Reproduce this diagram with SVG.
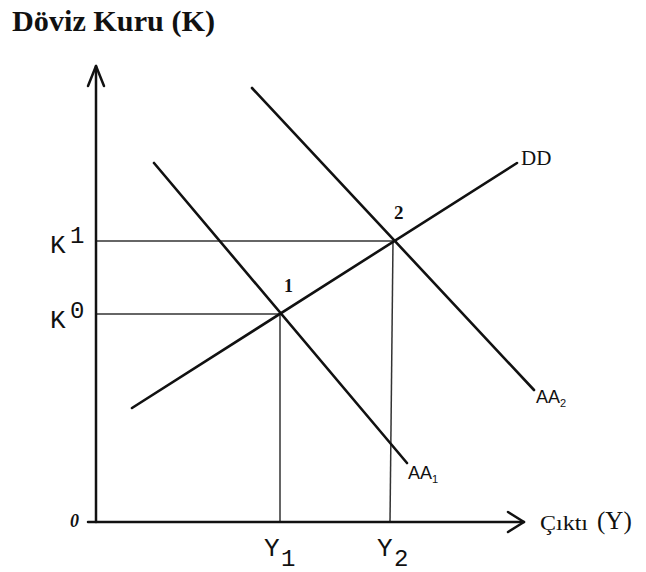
<svg xmlns="http://www.w3.org/2000/svg" width="646" height="572" viewBox="0 0 646 572">
<style>
.ax{stroke:#111;stroke-width:2.5;fill:none;stroke-linecap:round;stroke-linejoin:round}
.cv{stroke:#111;stroke-width:2.6;fill:none;stroke-linecap:round}
.gd{stroke:#333;stroke-width:1.5;fill:none}
.mono{font-family:"Liberation Mono","DejaVu Sans Mono",monospace;fill:#111}
.ser{font-family:"Liberation Serif","DejaVu Serif",serif;fill:#111}
.sans{font-family:"Liberation Sans","DejaVu Sans",sans-serif;fill:#111}
</style>
<rect width="646" height="572" fill="#fff"/>
<g id="title"><text class="ser" x="12" y="31" font-size="29" font-weight="bold" textLength="203" lengthAdjust="spacingAndGlyphs">Döviz Kuru (K)</text></g>
<g id="connectors">
<g id="guides">
<line class="gd" x1="96" y1="241" x2="397" y2="241"/>
<line class="gd" x1="96" y1="314" x2="281" y2="314"/>
<line class="gd" x1="280" y1="314" x2="280" y2="522"/>
<line class="gd" x1="393" y1="241" x2="390" y2="522"/>
</g>
<g id="axes">
<polyline class="ax" points="96,522 96,66"/>
<polyline class="ax" points="88,86 96,66 104,86"/>
<polyline class="ax" points="88,522 524,522"/>
<polyline class="ax" points="508,512 524,522 508,532"/>
</g>
<g id="curves">
<line id="AA1" class="cv" x1="154" y1="163" x2="407" y2="463"/>
<line id="AA2" class="cv" x1="252" y1="88" x2="534" y2="390"/>
<line id="DD" class="cv" x1="132" y1="408" x2="517" y2="163"/>
</g>
</g>
<g id="labels">
<text class="mono" x="50" y="253" font-size="26">K</text><text class="mono" x="70" y="243" font-size="24">1</text>
<text class="mono" x="50" y="328" font-size="26">K</text><text class="mono" x="70" y="318" font-size="24">0</text>
<text class="mono" x="264" y="556" font-size="26">Y</text><text class="mono" x="281" y="566" font-size="24">1</text>
<text class="mono" x="377" y="556" font-size="26">Y</text><text class="mono" x="394" y="566" font-size="24">2</text>
<text class="ser" x="70" y="527" font-size="18" font-style="italic" font-weight="bold">0</text>
<text class="ser" x="540" y="530" font-size="22" textLength="48" lengthAdjust="spacingAndGlyphs">Çıktı</text>
<text class="ser" x="597" y="529" font-size="25">(Y)</text>
<text class="ser" x="284" y="292" font-size="18" font-weight="bold">1</text>
<text class="ser" x="394" y="219" font-size="19" font-weight="bold">2</text>
<text class="ser" x="521" y="165" font-size="21">DD</text>
<text class="sans" x="536" y="403" font-size="18">AA<tspan font-size="11" dy="4">2</tspan></text>
<text class="sans" x="408" y="479" font-size="18">AA<tspan font-size="11" dy="4">1</tspan></text>
</g>
</svg>
